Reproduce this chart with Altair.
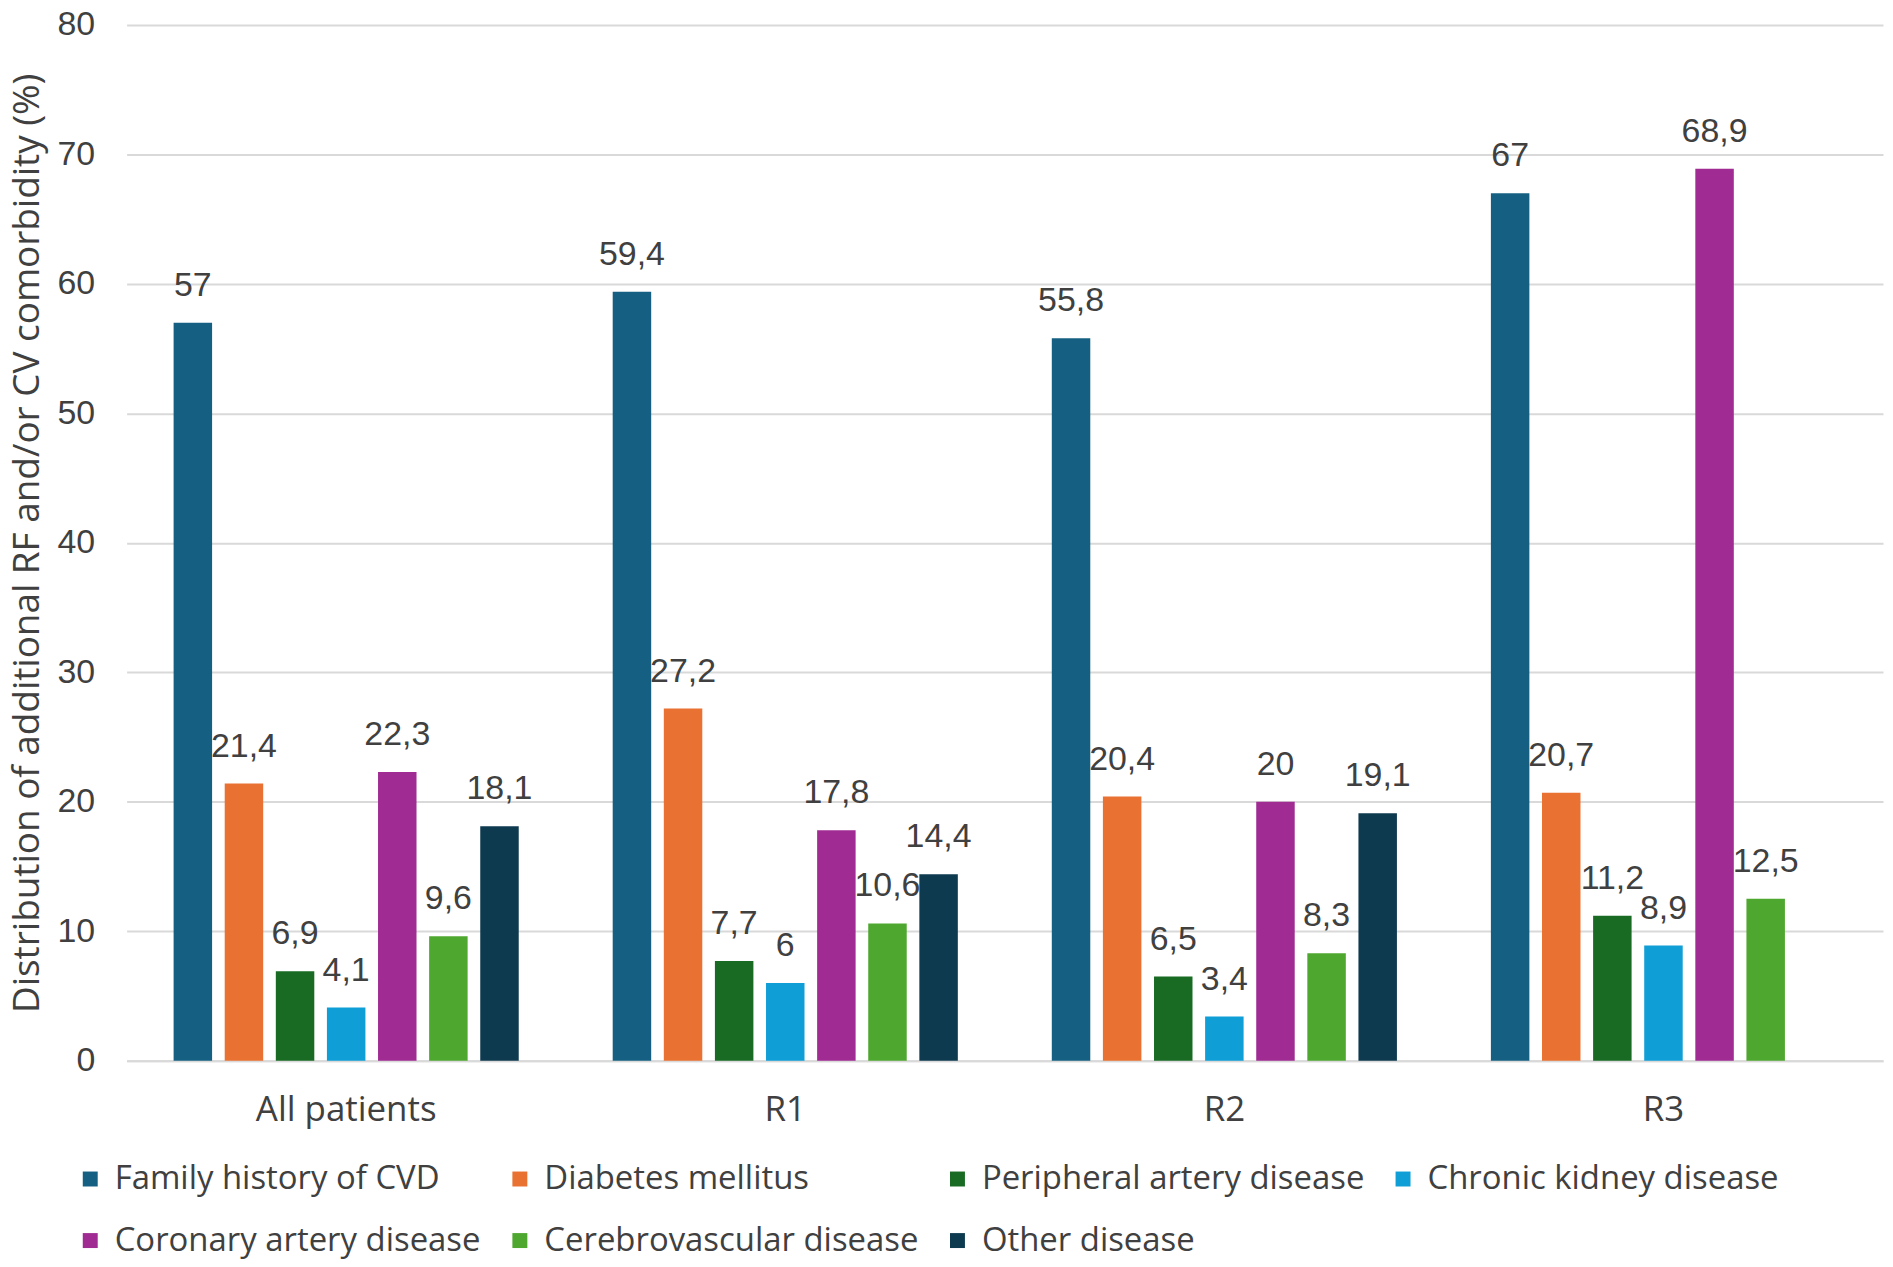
import altair as alt
import pandas as pd

groups = ["All patients", "R1", "R2", "R3"]
series = [
    "Family history of CVD",
    "Diabetes mellitus",
    "Peripheral artery disease",
    "Chronic kidney disease",
    "Coronary artery disease",
    "Cerebrovascular disease",
    "Other disease",
]
colors = ["#156082", "#E97132", "#196B24", "#0F9ED5", "#A02B93", "#4EA72E", "#0D3A4F"]

# values per series, in group order (None = no bar)
family_history = [57, 59.4, 55.8, 67]
diabetes = [21.4, 27.2, 20.4, 20.7]
peripheral = [6.9, 7.7, 6.5, 11.2]
chronic_kidney = [4.1, 6, 3.4, 8.9]
coronary = [22.3, 17.8, 20, 68.9]
cerebrovascular = [9.6, 10.6, 8.3, 12.5]
other = [18.1, 14.4, 19.1, None]

values = [family_history, diabetes, peripheral, chronic_kidney, coronary, cerebrovascular, other]

rows = []
for s, vals in zip(series, values):
    for g, v in zip(groups, vals):
        if v is None:
            continue
        rows.append({"group": g, "series": s, "value": v,
                     "label": f"{v:g}".replace(".", ",")})
df = pd.DataFrame(rows)

TEXT_FONT = "Open Sans"
NUM_FONT = "Liberation Sans"

x = alt.X("group:N", sort=groups, title=None,
          scale=alt.Scale(paddingInner=0.214, paddingOuter=0.107),
          axis=alt.Axis(labelAngle=0, labelFont=TEXT_FONT, labelFontSize=35,
                        labelColor="#404040", labelPadding=32, labelLimit=600,
                        ticks=False, grid=False,
                        domainColor="#d9d9d9", domainWidth=2))
xo = alt.XOffset("series:N", sort=series, scale=alt.Scale(paddingInner=0.247, paddingOuter=0))
y = alt.Y("value:Q", title="Distribution of additional RF and/or CV comorbidity (%)",
          scale=alt.Scale(domain=[0, 80]),
          axis=alt.Axis(values=list(range(0, 81, 10)), grid=True, gridColor="#d9d9d9",
                        gridWidth=2, domain=False, ticks=False, labelFont=NUM_FONT,
                        labelFontSize=34, labelColor="#404040", labelPadding=32,
                        titleFont=TEXT_FONT, titleFontSize=37, titleFontWeight="normal",
                        titleColor="#404040", titlePadding=11))
color = alt.Color("series:N", sort=series, scale=alt.Scale(domain=series, range=colors),
                  legend=alt.Legend(title=None, orient="none", legendX=-53, legendY=1141,
                                    columns=4, direction="horizontal",
                                    symbolType="square", symbolSize=225, symbolStrokeWidth=0,
                                    labelFont=TEXT_FONT, labelFontSize=33, labelColor="#404040",
                                    labelOffset=8, labelLimit=600, columnPadding=22,
                                    rowPadding=28, padding=0))

bars = alt.Chart(df).mark_bar().encode(x=x, xOffset=xo, y=y, color=color)
labels = alt.Chart(df).mark_text(baseline="bottom", dy=-20, font=NUM_FONT, fontSize=34,
                                 color="#404040").encode(
    x=x, xOffset=xo, y=y, text="label:N")

chart = (bars + labels).properties(
    width=1762, height=1039,
    background="white",
    autosize=alt.AutoSizeParams(type="none"),
    padding={"left": 119, "top": 15, "right": 2, "bottom": 200},
).configure_view(stroke="transparent", strokeWidth=0)

chart.save("out.html", embed_options={"renderer": "svg", "actions": False})
